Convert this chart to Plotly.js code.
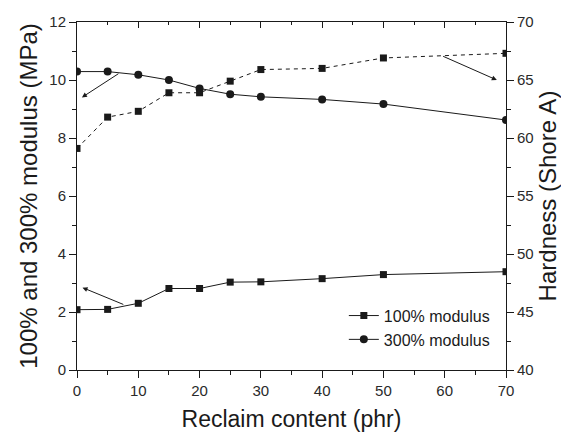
<!DOCTYPE html>
<html>
<head>
<meta charset="utf-8">
<script src="https://cdn.plot.ly/plotly-3.0.1.min.js"></script>
<style>html,body{margin:0;padding:0;background:#fff;}#chart{width:561px;height:432px;}</style>
</head>
<body>
<div id="chart"></div>
<script>
// Data
const reclaim = [0, 5, 10, 15, 20, 25, 30, 40, 50, 70];
const modulus100 = [2.08, 2.09, 2.30, 2.81, 2.81, 3.03, 3.04, 3.15, 3.29, 3.39];
const modulus300 = [10.29, 10.29, 10.18, 10.0, 9.71, 9.51, 9.42, 9.33, 9.17, 8.62];
const hardness = [59.1, 61.8, 62.3, 63.9, 63.9, 64.9, 65.9, 66.0, 66.9, 67.3];
const xTicks = [0, 10, 20, 30, 40, 50, 60, 70];
const yTicks = [0, 2, 4, 6, 8, 10, 12];
const y2Ticks = [40, 45, 50, 55, 60, 65, 70];

const ink = '#1a1a1a';
const fontFam = 'Liberation Sans, Arial, sans-serif';

const traces = [
  {x: reclaim, y: modulus100, name: '100% modulus', type: 'scatter', mode: 'lines+markers', cliponaxis: true,
   line: {color: ink, width: 1}, marker: {symbol: 'square', size: 7, color: ink}},
  {x: reclaim, y: modulus300, name: '300% modulus', type: 'scatter', mode: 'lines+markers', cliponaxis: true,
   line: {color: ink, width: 1}, marker: {symbol: 'circle', size: 8, color: ink}},
  {x: reclaim, y: hardness, name: 'Hardness', type: 'scatter', mode: 'lines+markers', yaxis: 'y2', cliponaxis: true,
   showlegend: false,
   line: {color: ink, width: 1, dash: '4px,4px'}, marker: {symbol: 'square', size: 7, color: ink}},
  {x: [0, 70], y: [null, null], xaxis: 'x2', showlegend: false, hoverinfo: 'skip', type: 'scatter', mode: 'lines'}
];

const tickFont = {family: fontFam, size: 15, color: '#2a2a2a'};
const titleFont = {family: fontFam, size: 23, color: ink};

const layout = {
  width: 561, height: 432,
  margin: {l: 77, r: 55, t: 22, b: 62},
  paper_bgcolor: '#ffffff', plot_bgcolor: '#ffffff',
  showlegend: true,
  legend: {x: 0.622, y: 0.205, xanchor: 'left', yanchor: 'top', bgcolor: 'rgba(0,0,0,0)',
    font: {family: fontFam, size: 16, color: ink}, tracegroupgap: 0, itemwidth: 30},
  xaxis: {range: [0, 70], tickvals: xTicks, ticks: 'outside', ticklen: 7, tickwidth: 1, tickcolor: ink,
    showline: true, linecolor: ink, linewidth: 1, showgrid: false, zeroline: false,
    minor: {dtick: 5, tick0: 0, ticks: 'outside', ticklen: 4, tickcolor: ink, showgrid: false},
    tickfont: tickFont,
    title: {text: 'Reclaim content (phr)', font: titleFont, standoff: 24}},
  xaxis2: {range: [0, 70], overlaying: 'x', side: 'top', tickvals: xTicks, ticks: 'inside', ticklen: 6,
    tickcolor: ink, showline: true, linecolor: ink, linewidth: 1, showgrid: false, zeroline: false,
    showticklabels: false,
    minor: {dtick: 5, tick0: 0, ticks: 'inside', ticklen: 3, tickcolor: ink, showgrid: false}},
  yaxis: {range: [0, 12], tickvals: yTicks, ticks: 'outside', ticklen: 7, tickwidth: 1, tickcolor: ink,
    showline: true, linecolor: ink, linewidth: 1, showgrid: false, zeroline: false,
    minor: {dtick: 1, tick0: 0, ticks: 'outside', ticklen: 4, tickcolor: ink, showgrid: false},
    tickfont: tickFont,
    title: {text: '100% and 300% modulus (MPa)', font: {family: fontFam, size: 24, color: ink}, standoff: 4}},
  yaxis2: {range: [40, 70], overlaying: 'y', side: 'right', tickvals: y2Ticks, ticks: 'outside', ticklen: 7,
    tickwidth: 1, tickcolor: ink, showline: true, linecolor: ink, linewidth: 1, showgrid: false, zeroline: false,
    minor: {dtick: 2.5, tick0: 40, ticks: 'outside', ticklen: 4, tickcolor: ink, showgrid: false},
    tickfont: tickFont,
    title: {text: 'Hardness (Shore A)', font: {family: fontFam, size: 24, color: ink}, standoff: 4}},
  annotations: [
    {x: 0.8, y: 9.4, ax: 7.0, ay: 10.25, xref: 'x', yref: 'y', axref: 'x', ayref: 'y',
     text: '', showarrow: true, arrowhead: 2, arrowsize: 1, arrowwidth: 1, arrowcolor: ink},
    {x: 0.9, y: 2.84, ax: 7.8, ay: 2.24, xref: 'x', yref: 'y', axref: 'x', ayref: 'y',
     text: '', showarrow: true, arrowhead: 2, arrowsize: 1, arrowwidth: 1, arrowcolor: ink},
    {x: 68.5, y: 65.0, ax: 59.5, ay: 67.1, xref: 'x', yref: 'y2', axref: 'x', ayref: 'y2',
     text: '', showarrow: true, arrowhead: 2, arrowsize: 1, arrowwidth: 1, arrowcolor: ink}
  ]
};

Plotly.newPlot('chart', traces, layout, {displayModeBar: false, staticPlot: true});
</script>
</body>
</html>
